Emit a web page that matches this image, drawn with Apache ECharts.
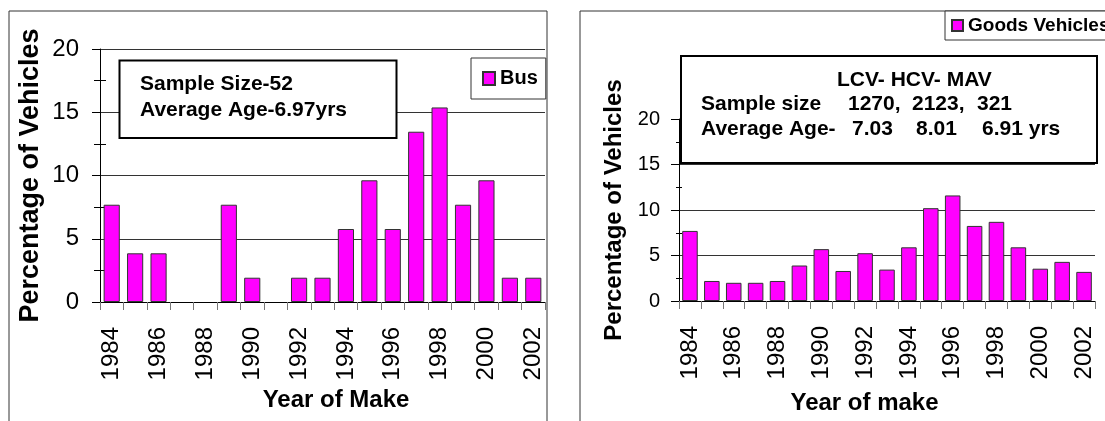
<!DOCTYPE html>
<html>
<head>
<meta charset="utf-8">
<script src="https://cdn.jsdelivr.net/npm/echarts@6/dist/echarts.min.js"></script>
<style>
html,body{margin:0;padding:0;background:#fff;}
#c{width:1105px;height:421px;}
</style>
</head>
<body>
<div id="c"></div>
<script>
// ---- data ----
const years = ['1984','1985','1986','1987','1988','1989','1990','1991','1992','1993','1994','1995','1996','1997','1998','1999','2000','2001','2002'];
const busValues = [7.69, 3.85, 3.85, 0, 0, 7.69, 1.92, 0, 1.92, 1.92, 5.77, 9.62, 5.77, 13.46, 15.38, 7.69, 9.62, 1.92, 1.92];
const goodsValues = [7.7, 2.2, 2.0, 2.0, 2.2, 3.9, 5.7, 3.3, 5.25, 3.45, 5.9, 10.2, 11.6, 8.25, 8.7, 5.9, 3.55, 4.3, 3.2];
const yMin = 0, yMax = 20, yStep = 5;
const seriesNames = ['Bus', 'Goods Vehicles'];
const axisTitles = { y: 'Percentage of Vehicles', xLeft: 'Year of Make', xRight: 'Year of make' };
const busNote = ['Sample Size-52', 'Average Age-6.97yrs'];
const goodsHeader = 'LCV- HCV- MAV';
const goodsSample = ['Sample size', '1270,', '2123,', '321'];
const goodsAge = ['Average Age-', '7.03', '8.01', '6.91 yrs'];

const FONT = '"Liberation Sans", Arial, sans-serif';
const MAG = '#FF00FF';

// a zero share has no visible bar in the original
const asBars = vals => vals.map(v => (v === 0 ? '-' : v));

const chart = echarts.init(document.getElementById('c'));

function yAxes(grid, labelSize, margin, minorLen, name, nameSize, nameGap) {
  return [
    {
      type: 'value', gridIndex: grid, min: yMin, max: yMax, interval: yStep, position: 'left',
      name: name, nameLocation: 'middle', nameRotate: 90, nameGap: nameGap,
      nameTextStyle: { fontFamily: FONT, fontWeight: 'bold', fontSize: nameSize, color: '#000' },
      axisLine: { show: true, lineStyle: { color: '#000', width: 1 } },
      axisTick: { show: true, length: 8, lineStyle: { color: '#000' } },
      minorTick: { show: true, splitNumber: 2, length: minorLen, lineStyle: { color: '#000' } },
      axisLabel: { fontFamily: FONT, fontSize: labelSize, color: '#000', margin: margin },
      splitLine: { show: true, lineStyle: { color: '#333', width: 1 } }
    },
    {
      type: 'value', gridIndex: grid, min: yMin, max: yMax, interval: yStep, position: 'left',
      axisLine: { show: false },
      axisTick: { show: false, inside: true },
      minorTick: { show: true, splitNumber: 2, length: minorLen, lineStyle: { color: '#000' } },
      axisLabel: { show: false },
      splitLine: { show: false }
    }
  ];
}

function xAxis(grid, name, nameGap, namePad) {
  return {
    type: 'category', gridIndex: grid, data: years,
    name: name, nameLocation: 'middle', nameGap: nameGap,
    nameTextStyle: { fontFamily: FONT, fontWeight: 'bold', fontSize: 24, color: '#000', padding: namePad },
    axisLine: { show: true, lineStyle: { color: '#000', width: 1 } },
    axisTick: { show: true, length: 8, alignWithLabel: false, interval: 0, lineStyle: { color: '#777' } },
    axisLabel: { interval: 1, rotate: 90, fontFamily: FONT, fontSize: 24, color: '#000', margin: 25 },
    splitLine: { show: false }
  };
}

const ya = yAxes(0, 24, 21, 6, axisTitles.y, 27, 56);
const yb = yAxes(1, 20, 19, 3, axisTitles.y, 24, 53);

const option = {
  animation: false,
  backgroundColor: '#fff',
  grid: [
    { left: 100, right: 1105 - 545, top: 49, bottom: 421 - 302, containLabel: false },
    { left: 679, right: 1105 - 1095, top: 119, bottom: 421 - 301, containLabel: false }
  ],
  legend: [
    {
      data: [seriesNames[0]], left: 471, top: 58, orient: 'horizontal',
      icon: 'rect', itemWidth: 12, itemHeight: 13, itemGap: 6,
      padding: [10, 8, 10, 11],
      borderColor: '#333', borderWidth: 1, backgroundColor: '#fff',
      textStyle: { fontFamily: FONT, fontWeight: 'bold', fontSize: 20, color: '#000', lineHeight: 21 }
    },
    {
      data: [seriesNames[1]], left: 945, top: 11, orient: 'horizontal',
      icon: 'rect', itemWidth: 11, itemHeight: 11, itemGap: 6,
      padding: [5, 8, 5, 6],
      borderColor: '#333', borderWidth: 1, backgroundColor: '#fff',
      textStyle: { fontFamily: FONT, fontWeight: 'bold', fontSize: 19, color: '#000', lineHeight: 19 }
    }
  ],
  xAxis: [
    xAxis(0, axisTitles.xLeft, 86, [0, 0, 0, 27]),
    xAxis(1, axisTitles.xRight, 90, [0, 45, 0, 0])
  ],
  yAxis: [ya[0], ya[1], yb[0], yb[1]],
  series: [
    {
      name: seriesNames[0], type: 'bar', xAxisIndex: 0, yAxisIndex: 0, data: asBars(busValues),
      barCategoryGap: '31%',
      itemStyle: { color: MAG, borderColor: '#333', borderWidth: 1 }
    },
    {
      name: seriesNames[1], type: 'bar', xAxisIndex: 1, yAxisIndex: 2, data: asBars(goodsValues),
      barCategoryGap: '29%',
      itemStyle: { color: MAG, borderColor: '#333', borderWidth: 1 }
    }
  ],
  graphic: [
    // chart frames
    { type: 'rect', z: 1, silent: true, shape: { x: 9, y: 11, width: 538, height: 430 },
      style: { fill: 'none', stroke: '#333', lineWidth: 1 } },
    { type: 'rect', z: 1, silent: true, shape: { x: 580, y: 11, width: 560, height: 430 },
      style: { fill: 'none', stroke: '#333', lineWidth: 1 } },
    // bus note box
    { type: 'rect', z: 100, silent: true, shape: { x: 119.5, y: 60.5, width: 277, height: 77.5 },
      style: { fill: '#fff', stroke: '#000', lineWidth: 2 } },
    { type: 'text', z: 101, silent: true, x: 140, y: 84,
      style: { text: busNote[0], fontFamily: FONT, fontWeight: 'bold', fontSize: 21, fill: '#000', verticalAlign: 'middle' } },
    { type: 'text', z: 101, silent: true, x: 140, y: 110,
      style: { text: busNote[1], fontFamily: FONT, fontWeight: 'bold', fontSize: 21, fill: '#000', verticalAlign: 'middle' } },
    // goods note box
    { type: 'rect', z: 100, silent: true, shape: { x: 681, y: 56, width: 416, height: 107 },
      style: { fill: '#fff', stroke: '#000', lineWidth: 2 } },
    { type: 'text', z: 101, silent: true, x: 837, y: 80,
      style: { text: goodsHeader, fontFamily: FONT, fontWeight: 'bold', fontSize: 21, fill: '#000', verticalAlign: 'middle' } },
    { type: 'text', z: 101, silent: true, x: 701, y: 104,
      style: { text: goodsSample[0], fontFamily: FONT, fontWeight: 'bold', fontSize: 21, fill: '#000', verticalAlign: 'middle' } },
    { type: 'text', z: 101, silent: true, x: 848, y: 104,
      style: { text: goodsSample[1], fontFamily: FONT, fontWeight: 'bold', fontSize: 21, fill: '#000', verticalAlign: 'middle' } },
    { type: 'text', z: 101, silent: true, x: 912, y: 104,
      style: { text: goodsSample[2], fontFamily: FONT, fontWeight: 'bold', fontSize: 21, fill: '#000', verticalAlign: 'middle' } },
    { type: 'text', z: 101, silent: true, x: 977, y: 104,
      style: { text: goodsSample[3], fontFamily: FONT, fontWeight: 'bold', fontSize: 21, fill: '#000', verticalAlign: 'middle' } },
    { type: 'text', z: 101, silent: true, x: 701, y: 129,
      style: { text: goodsAge[0], fontFamily: FONT, fontWeight: 'bold', fontSize: 21, fill: '#000', verticalAlign: 'middle' } },
    { type: 'text', z: 101, silent: true, x: 852, y: 129,
      style: { text: goodsAge[1], fontFamily: FONT, fontWeight: 'bold', fontSize: 21, fill: '#000', verticalAlign: 'middle' } },
    { type: 'text', z: 101, silent: true, x: 916, y: 129,
      style: { text: goodsAge[2], fontFamily: FONT, fontWeight: 'bold', fontSize: 21, fill: '#000', verticalAlign: 'middle' } },
    { type: 'text', z: 101, silent: true, x: 982, y: 129,
      style: { text: goodsAge[3], fontFamily: FONT, fontWeight: 'bold', fontSize: 21, fill: '#000', verticalAlign: 'middle' } }
  ]
};
chart.setOption(option);
</script>
</body>
</html>
